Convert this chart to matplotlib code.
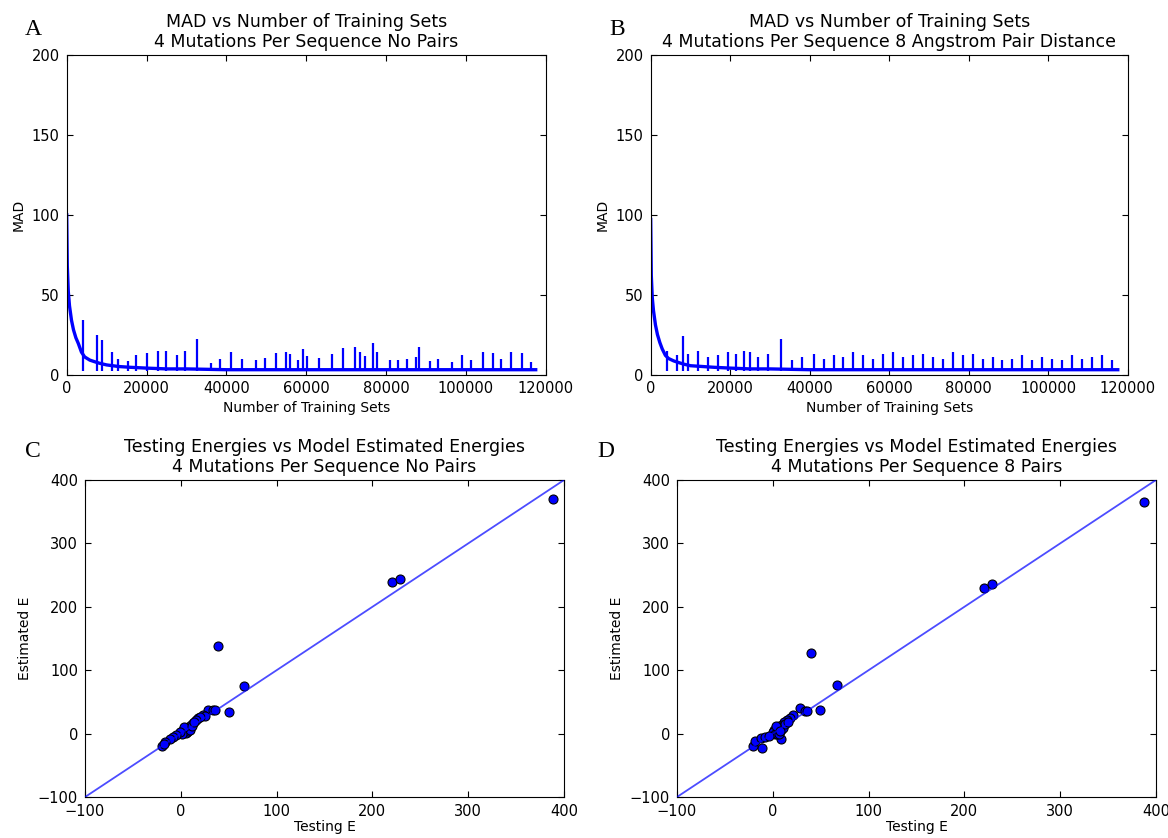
import matplotlib.pyplot as plt
import numpy as np

plt.rcParams['font.family'] = 'DejaVu Sans'
plt.rcParams['xtick.direction'] = 'in'
plt.rcParams['ytick.direction'] = 'in'
plt.rcParams['xtick.top'] = True
plt.rcParams['ytick.right'] = True
plt.rcParams['xtick.major.size'] = 4
plt.rcParams['ytick.major.size'] = 4
plt.rcParams['xtick.major.pad'] = 5
plt.rcParams['ytick.major.pad'] = 5

# MAD curve: smooth decay / floor of the running error
mad_x = [0, 150, 400, 700, 1200, 1700, 2300, 2900, 3700, 4500, 5800, 7000, 8300,
         10000, 13000, 16000, 20000, 25000, 30000, 40000, 50000, 60000, 70000,
         80000, 90000, 100000, 110000, 117500]
mad_a = [100, 68, 52, 43, 34, 28, 23, 19.5, 14, 11, 9, 8, 7,
         6, 5, 4.5, 4, 3.5, 3.5, 3, 3, 3, 3, 3, 3, 3, 3, 3]
mad_b = [97, 62, 48, 40, 31, 25, 20, 16, 12, 10, 8.5, 7.5, 6.5,
         5.5, 5, 4.5, 4, 3.5, 3.5, 3, 3, 3, 3, 3, 3, 3, 3, 3]

# spikes in MAD (position, peak)
spike_a_x = [4160, 7670, 8770, 11270, 12930, 15420, 17360, 20040, 22790, 24870,
             27540, 29620, 32700, 36250, 38330, 41250, 44000, 47500, 49580, 52500,
             55000, 55830, 57920, 59130, 60130, 63300, 66380, 69130, 72200, 73450,
             74700, 76800, 77800, 80960, 83040, 85130, 87460, 88260, 91000, 93080,
             96420, 98920, 101170, 104200, 106700, 108700, 111200, 113950, 116200]
spike_a_h = [34, 24.7, 21.6, 14.3, 9.5, 8.4, 12.2, 13.6, 14.7, 15,
             12.2, 15, 22, 7.4, 9.5, 14.3, 9.5, 9, 10.6, 13.6,
             14.3, 12.8, 9, 15.7, 11.5, 10.6, 12.8, 16.8, 17.4, 14.3,
             11.5, 19.5, 13.8, 9, 9, 9.5, 11, 17.4, 8.4, 10,
             7.9, 12.2, 9, 14.3, 13.6, 9.5, 14.3, 13.6, 7.9]

spike_b_x = [4000, 6500, 8080, 9500, 12000, 14500, 17000, 19500, 21500, 23500,
             25000, 27000, 29500, 32800, 35500, 38000, 41000, 43500, 46000, 48500,
             51000, 53500, 56000, 58500, 61000, 63500, 66000, 68500, 71000, 73500,
             76000, 78500, 81000, 83500, 86000, 88500, 91000, 93500, 96000, 98500,
             101000, 103500, 106000, 108500, 111000, 113500, 116000]
spike_b_h = [15, 12, 24, 13, 15, 11, 12, 14, 13, 15,
             14, 11, 13, 22, 9, 11, 13, 10, 12, 11,
             14, 12, 10, 13, 14, 11, 12, 13, 11, 10,
             14, 12, 13, 10, 11, 9, 10, 12, 9, 11,
             10, 9, 12, 10, 11, 12, 9]

# testing energies vs model estimates, no pairs
test_c = [388, 220, 229, 39, 66, 50, 28, 34, 36, 23, 25, 18, 20, 13, 16,
          7.8, 9.6, 11, 2.6, 6, 0.9, 4, 5, 8, 10, 3, 1, -1, 12, 14,
          -4.6, -7.8, -11, -16.5, -20, -18]
est_c = [370, 239, 244, 138, 75, 34, 37, 37, 37, 30, 27, 24, 26, 16, 22,
         11, 8.4, 14, 5.7, 3, 0.5, 8, 1, 4, 6, 10, -1, 2, 12, 18,
         -2.6, -5, -9, -13, -20, -16]

# testing energies vs model estimates, 8 pairs
test_d = [388, 220, 229, 40, 67, 49, 28, 34, 36, 21, 18, 15, 12, 8.2, -11,
          -21, -18.6, -12, -8, 10, 7, 5, 3, 1, 0, 2, 4, 6, 9, 11,
          13, 16, -4, 3, 6, 8]
est_d = [365, 229, 236, 127, 77, 37, 41, 36, 36, 29, 24, 22, 18, -9, -22,
         -20, -11, -7, -5, 14, 12, 10, 8, 6, 3, 0, -1, 2, 5, 9,
         15, 18, -3, 12, 0, 4]

fig = plt.figure(figsize=(11.68, 8.38), dpi=100)

title_fs = 12.5
lab_fs = 10
tick_fs = 10.5


def mad_panel(rect, base, sx, sh, title, letter, lx, ly):
    ax = fig.add_axes(rect)
    ax.plot(mad_x, base, color='b', lw=2.4, solid_joinstyle='miter')
    ax.vlines(sx, 2.5, sh, color='b', lw=1.6)
    ax.set_xlim(0, 120000)
    ax.set_ylim(0, 200)
    ax.set_xticks(np.arange(0, 120001, 20000))
    ax.set_yticks(np.arange(0, 201, 50))
    ax.tick_params(labelsize=tick_fs)
    ax.set_title(title, fontsize=title_fs, linespacing=1.1)
    ax.set_xlabel('Number of Training Sets', fontsize=lab_fs, labelpad=3)
    ax.set_ylabel('MAD', fontsize=lab_fs)
    fig.text(lx, ly, letter, family='Liberation Serif', fontsize=17,
             ha='center', va='center')
    return ax


def energy_panel(rect, tx, ey, title, letter, lx, ly):
    ax = fig.add_axes(rect)
    ax.scatter(tx, ey, s=42, c='b', edgecolors='k', linewidths=0.8, zorder=2)
    ax.plot([-100, 400], [-100, 400], color='b', alpha=0.7, lw=1.3, zorder=3)
    ax.set_xlim(-100, 400)
    ax.set_ylim(-100, 400)
    ax.set_xticks(np.arange(-100, 401, 100))
    ax.set_yticks(np.arange(-100, 401, 100))
    ax.tick_params(labelsize=tick_fs)
    ax.set_title(title, fontsize=title_fs, linespacing=1.1)
    ax.set_xlabel('Testing E', fontsize=lab_fs, labelpad=1)
    ax.set_ylabel('Estimated E', fontsize=lab_fs)
    fig.text(lx, ly, letter, family='Liberation Serif', fontsize=17,
             ha='center', va='center')
    return ax


mad_panel([0.0571, 0.5531, 0.4101, 0.3813], mad_a, spike_a_x, spike_a_h,
          'MAD vs Number of Training Sets\n4 Mutations Per Sequence No Pairs',
          'A', 0.0283, 0.965)
mad_panel([0.5571, 0.5531, 0.4084, 0.3813], mad_b, spike_b_x, spike_b_h,
          'MAD vs Number of Training Sets\n4 Mutations Per Sequence 8 Angstrom Pair Distance',
          'B', 0.528, 0.965)
energy_panel([0.0728, 0.0489, 0.4101, 0.3783], test_c, est_c,
             'Testing Energies vs Model Estimated Energies\n4 Mutations Per Sequence No Pairs',
             'C', 0.0283, 0.461)
energy_panel([0.5796, 0.0489, 0.4101, 0.3783], test_d, est_d,
             'Testing Energies vs Model Estimated Energies\n4 Mutations Per Sequence 8 Pairs',
             'D', 0.519, 0.461)

fig.savefig('out.png', dpi=100)
